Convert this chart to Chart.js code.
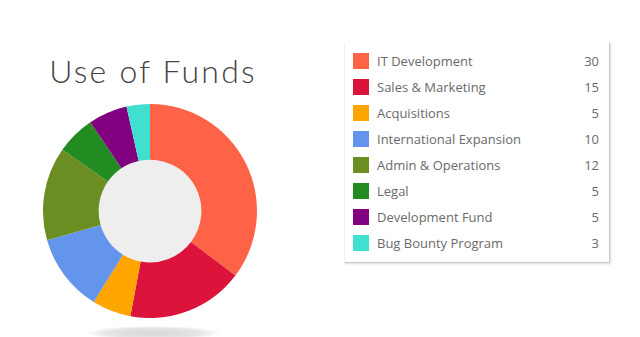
<!DOCTYPE html>
<html>
<head>
<meta charset="utf-8">
<script src="https://cdn.jsdelivr.net/npm/chart.js@4/dist/chart.umd.min.js"></script>
<style>
  html, body { margin: 0; padding: 0; background: #fff; }
  body { width: 640px; height: 337px; position: relative; overflow: hidden; }
  #title {
    position: absolute; left: 0; top: 51px; width: 306px; text-align: center;
    font-family: Lato, sans-serif; font-weight: 300; font-size: 32px; color: #444;
    letter-spacing: 2.2px;
  }
  #chartWrap { position: absolute; left: 43px; top: 104px; width: 214px; height: 214px; }
  #shadow {
    position: absolute; left: 86px; top: 326px; width: 134px; height: 14px;
    border-radius: 50%; background: radial-gradient(ellipse at center, rgba(0,0,0,0.16) 0%, rgba(0,0,0,0.1) 50%, rgba(0,0,0,0) 72%);
  }
  #legendBox {
    position: absolute; left: 344px; top: 43px; width: 264px; height: 219px;
    background: #fff; border-left: 1px solid #f0f0f0;
    border-right: 1px solid #c8c8c8; border-bottom: 1px solid #c8c8c8;
    box-shadow: 1px 1px 2px rgba(0,0,0,0.15);
    font-family: "Open Sans", sans-serif; font-size: 13px; color: #6a6a6a;
  }
  .row { position: absolute; left: 0; width: 100%; height: 26px; }
  .sw { position: absolute; left: 8px; top: 0; width: 16px; height: 16px; }
  .lbl { position: absolute; left: 32px; top: -1px; }
  .val { position: absolute; right: 10px; top: -1px; }
</style>
</head>
<body>
<div id="title">Use of Funds</div>
<div id="chartWrap"><canvas id="fundsChart"></canvas></div>
<div id="shadow"></div>
<div id="legendBox"></div>

<script>
// dati del grafico
const categorie = ['IT Development', 'Sales & Marketing', 'Acquisitions', 'International Expansion',
                   'Admin & Operations', 'Legal', 'Development Fund', 'Bug Bounty Program'];
const valori = [30, 15, 5, 10, 12, 5, 5, 3];
const colori = ['#FF6347', '#DC143C', '#FFA500', '#6495ED', '#6B8E23', '#228B22', '#800080', '#40E0D0'];

// legenda HTML con i valori
const box = document.getElementById('legendBox');
categorie.forEach((nome, i) => {
    const row = document.createElement('div');
    row.className = 'row';
    row.style.top = (10 + i * 26) + 'px';
    row.innerHTML = `<span class="sw" style="background:${colori[i]}"></span>
                     <span class="lbl">${nome}</span><span class="val">${valori[i]}</span>`;
    box.appendChild(row);
});

// cerchio grigio al centro della ciambella
const holeFill = {
    id: 'holeFill',
    beforeDatasetsDraw(chart) {
        const meta = chart.getDatasetMeta(0);
        if (!meta.data.length) return;
        const arc = meta.data[0];
        const ctx = chart.ctx;
        ctx.save();
        ctx.beginPath();
        ctx.arc(arc.x, arc.y, arc.innerRadius + 1, 0, Math.PI * 2);
        ctx.fillStyle = '#eeeeee';
        ctx.fill();
        ctx.restore();
    }
};

new Chart(document.getElementById('fundsChart'), {
    type: 'doughnut',
    data: {
        labels: categorie,
        datasets: [{
            data: valori,
            backgroundColor: colori,
            borderWidth: 0
        }]
    },
    options: {
        responsive: true,
        maintainAspectRatio: false,
        animation: false,
        cutout: '48%',
        plugins: { legend: { display: false }, tooltip: { enabled: false } }
    },
    plugins: [holeFill]
});
</script>
</body>
</html>
